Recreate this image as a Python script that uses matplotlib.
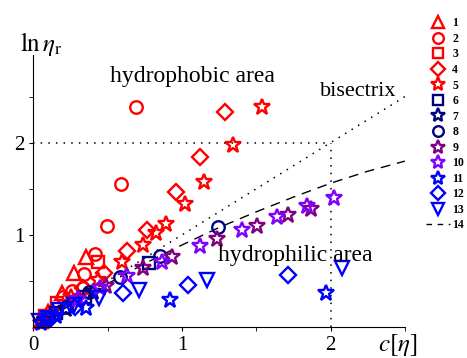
import matplotlib
matplotlib.use("Agg")
import matplotlib.pyplot as plt
from matplotlib.lines import Line2D

plt.rcParams["font.family"] = "Liberation Serif"
plt.rcParams["mathtext.fontset"] = "stix"

# series: (x = c[eta], y = ln eta_r)
x1 = [0.05, 0.10, 0.19, 0.273, 0.354]
y1 = [0.07, 0.16, 0.37, 0.59, 0.76]
x2 = [0.06, 0.20, 0.26, 0.33, 0.34, 0.414, 0.495, 0.59, 0.69]
y2 = [0.08, 0.33, 0.39, 0.42, 0.58, 0.79, 1.10, 1.55, 2.39]
x3 = [0.08, 0.16, 0.435]
y3 = [0.12, 0.26, 0.71]
x4 = [0.33, 0.475, 0.63, 0.765, 0.96, 1.12, 1.29]
y4 = [0.42, 0.59, 0.83, 1.05, 1.46, 1.84, 2.33]
x5 = [0.12, 0.25, 0.435, 0.594, 0.74, 0.825, 0.89, 1.02, 1.145, 1.345, 1.535]
y5 = [0.15, 0.33, 0.51, 0.71, 0.89, 1.02, 1.12, 1.34, 1.57, 1.97, 2.39]
x6 = [0.15, 0.35, 0.78]
y6 = [0.15, 0.33, 0.69]
x7 = [0.08, 0.22, 0.40]
y7 = [0.08, 0.20, 0.38]
x8 = [0.10, 0.22, 0.375, 0.58, 0.85, 1.245]
y8 = [0.10, 0.22, 0.38, 0.54, 0.77, 1.09]
x9 = [0.30, 0.49, 0.74, 0.93, 1.235, 1.505, 1.71, 1.865]
y9 = [0.30, 0.45, 0.64, 0.76, 0.957, 1.10, 1.21, 1.28]
x10 = [0.30, 0.45, 0.63, 0.866, 1.12, 1.405, 1.64, 1.84, 2.02]
y10 = [0.30, 0.42, 0.55, 0.71, 0.88, 1.05, 1.19, 1.31, 1.40]
x11 = [0.05, 0.15, 0.354, 0.92, 1.97]
y11 = [0.04, 0.12, 0.21, 0.29, 0.37]
x12 = [0.12, 0.28, 0.605, 1.037, 1.71]
y12 = [0.10, 0.22, 0.37, 0.46, 0.56]
x13 = [0.04, 0.10, 0.17, 0.27, 0.44, 0.71, 1.17, 2.08]
y13 = [0.06, 0.10, 0.18, 0.24, 0.31, 0.40, 0.51, 0.64]
# curve 14 (dashed), read at a few points
x14 = [0, 0.25, 0.5, 0.75, 1.0, 1.25, 1.5, 1.75, 2.0, 2.25, 2.5]
y14 = [0, 0.24, 0.47, 0.69, 0.89, 1.08, 1.25, 1.41, 1.56, 1.69, 1.80]

series = [
    (x1, y1, "^", "#ff0000"),
    (x2, y2, "o", "#ff0000"),
    (x3, y3, "s", "#ff0000"),
    (x4, y4, "D", "#ff0000"),
    (x5, y5, "*", "#ff0000"),
    (x6, y6, "s", "#000080"),
    (x7, y7, "*", "#000080"),
    (x8, y8, "o", "#000080"),
    (x9, y9, "*", "#800080"),
    (x10, y10, "*", "#8000ff"),
    (x11, y11, "*", "#0000ff"),
    (x12, y12, "D", "#0000ff"),
    (x13, y13, "v", "#0000ff"),
]
sizes = {"^": 10, "o": 9, "s": 8, "D": 8, "*": 12, "v": 10}

fig = plt.figure(figsize=(4.67, 3.58), dpi=100)
ax = fig.add_axes([0.0717, 0.0866, 0.7953, 0.7594])

# guide lines
ax.plot([0, 2.5], [0, 2.5], color="black", lw=1.1, ls=(0, (1, 4)))
ax.plot([0, 2], [2, 2], color="black", lw=1.1, ls=(0, (1, 4)))
ax.plot([2, 2], [0, 2], color="black", lw=1.1, ls=(0, (1, 4)))
ax.plot(x14, y14, color="black", lw=1.0, ls=(0, (7, 5)))

handles = []
for i, (xs, ys, m, c) in enumerate(series):
    ax.plot(xs, ys, ls="none", marker=m, ms=sizes[m], mfc="none",
            mec=c, mew=1.7, clip_on=False)
    handles.append(Line2D([], [], ls="none", marker=m, ms=sizes[m] * 0.85,
                          mfc="none", mec=c, mew=1.7, label=str(i + 1)))
handles.append(Line2D([], [], color="black", lw=1.0, ls=(0, (4, 4)),
                      label="14"))

ax.set_xlim(0, 2.5)
ax.set_ylim(0, 2.95)
ax.spines["top"].set_visible(False)
ax.spines["right"].set_visible(False)
ax.set_xticks([0, 1, 2])
ax.set_xticks([0.5, 1.5, 2.5], minor=True)
ax.set_yticks([1, 2])
ax.set_yticks([0.5, 1.5, 2.5], minor=True)
ax.tick_params(which="both", direction="out", length=3, labelsize=15)
ax.tick_params(which="minor", labelleft=False, labelbottom=False)

ax.text(0.515, 2.72, "hydrophobic area", fontsize=17, va="center")
ax.text(1.93, 2.55, "bisectrix", fontsize=16, va="center")
ax.text(1.243, 0.78, "hydrophilic area", fontsize=17, va="center")
ax.text(-0.09, 3.07, r"$\mathrm{ln}\,\eta_{\mathrm{r}}$", fontsize=18,
        va="center", clip_on=False)
ax.text(2.32, -0.2, r"$c[\eta]$", fontsize=18, va="center", clip_on=False)

fig.legend(handles=handles, loc="upper left", bbox_to_anchor=(0.9, 0.968),
           frameon=False, prop={"weight": "bold", "size": 8.5},
           handlelength=2.0, handletextpad=0.2, labelspacing=0.3,
           borderpad=0)

fig.savefig("out.png", dpi=100)
